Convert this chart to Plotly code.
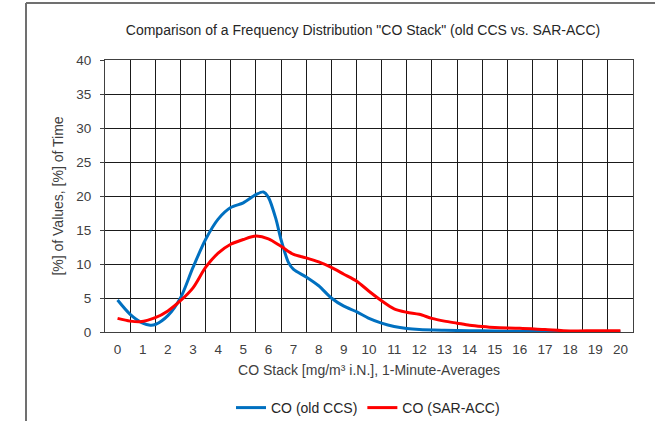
import plotly.graph_objects as go

title_text = 'Comparison of a Frequency Distribution "CO Stack" (old CCS vs. SAR-ACC)'
x_title = "CO Stack [mg/m³ i.N.], 1-Minute-Averages"
y_title = "[%] of Values, [%] of Time"

x_ticks = list(range(0, 21))
y_ticks = [0, 5, 10, 15, 20, 25, 30, 35, 40]

blue_name = "CO (old CCS)"
blue_x = [0, 0.5, 1, 1.3, 1.5, 2, 2.5, 3, 3.5, 4, 4.5, 5, 5.5, 5.8, 6, 6.3, 6.5, 6.8, 7, 7.5, 8, 8.5,
          9, 9.5, 10, 10.5, 11, 11.5, 12, 13, 14, 15, 16, 17, 18, 19, 20]
blue_y = [4.7, 2.6, 1.3, 1.0, 1.1, 2.4, 5.0, 9.5, 13.6, 16.6, 18.3, 19.0, 20.2, 20.6, 19.8, 16.6, 13.6,
          10.2, 9.2, 8.1, 6.8, 5.0, 3.8, 3.0, 2.0, 1.3, 0.8, 0.5, 0.35, 0.25, 0.2, 0.15, 0.1, 0.08,
          0.05, 0.05, 0.05]

red_name = "CO (SAR-ACC)"
red_x = [0, 0.5, 0.9, 1.5, 2, 2.5, 3, 3.5, 4, 4.5, 5, 5.5, 6, 6.5, 7, 7.5, 8, 8.5, 9, 9.5, 10, 10.5,
         11, 11.5, 12, 12.5, 13, 13.5, 14, 14.5, 15, 16, 17, 18, 19, 20]
red_y = [2.0, 1.6, 1.5, 2.1, 3.1, 4.6, 6.5, 9.5, 11.6, 12.9, 13.6, 14.1, 13.7, 12.6, 11.4, 10.9, 10.3,
         9.5, 8.5, 7.5, 6.0, 4.6, 3.4, 2.9, 2.6, 2.0, 1.6, 1.3, 1.0, 0.8, 0.65, 0.55, 0.35, 0.15,
         0.2, 0.2]

FONT = "Liberation Sans, Arial, sans-serif"
TXT = "#404040"

fig = go.Figure()
fig.add_trace(go.Scatter(x=blue_x, y=blue_y, name=blue_name, mode="lines",
                         line=dict(color="#0070C0", width=3, shape="spline", smoothing=0.8)))
fig.add_trace(go.Scatter(x=red_x, y=red_y, name=red_name, mode="lines",
                         line=dict(color="#FF0000", width=3, shape="spline", smoothing=0.8)))

W, H = 655, 421
L, R, T, B = 105, 22, 60, 89
pw, ph = W - L - R, H - T - B

def px(xp):
    return (xp - L) / pw

def py(yp):
    return (H - B - yp) / ph

fig.update_layout(
    width=W, height=H,
    margin=dict(l=L, r=R, t=T, b=B, autoexpand=False),
    paper_bgcolor="white", plot_bgcolor="white",
    font=dict(family=FONT, size=13, color=TXT),
    title=dict(text=title_text, xref="container", x=363 / W, xanchor="center",
               y=1 - 30 / H, yanchor="middle",
               font=dict(family=FONT, size=14, color="#262626")),
    showlegend=True,
    legend=dict(orientation="h", x=px(368), xanchor="center", y=py(408), yanchor="middle",
                font=dict(family=FONT, size=14, color="#262626"), itemwidth=30,
                traceorder="normal", bgcolor="rgba(0,0,0,0)"),
    xaxis=dict(range=[-0.5, 20.5], tickmode="array", tickvals=x_ticks,
               ticktext=[str(v) for v in x_ticks], showgrid=False, zeroline=False,
               showline=True, linecolor="#404040", linewidth=1, mirror=True,
               ticks="outside", ticklen=5, tickcolor="rgba(0,0,0,0)",
               tickfont=dict(size=13.5, color=TXT), automargin=False,
               minor=dict(tickvals=[v - 0.5 for v in x_ticks] + [20.5], showgrid=True,
                          gridcolor="#1a1a1a", gridwidth=1),
               title=dict(text=x_title, standoff=8, font=dict(size=14, color=TXT))),
    yaxis=dict(range=[0, 40], tickmode="array", tickvals=y_ticks, showgrid=True,
               gridcolor="#1a1a1a", gridwidth=1, zeroline=False,
               showline=True, linecolor="#404040", linewidth=1, mirror=True,
               ticks="outside", ticklen=4, tickcolor="#404040", automargin=False,
               ticklabelstandoff=6,
               tickfont=dict(size=13.5, color=TXT),
               title=dict(text=y_title, standoff=9, font=dict(size=14, color=TXT))),
    shapes=[
        dict(type="line", xref="paper", yref="paper", x0=px(26), x1=px(26), y0=py(3), y1=py(H + 5),
             line=dict(color="#707070", width=2)),
        dict(type="line", xref="paper", yref="paper", x0=px(26), x1=px(W + 5), y0=py(3), y1=py(3),
             line=dict(color="#707070", width=2)),
    ],
)

fig.write_html("out.html", config={"displayModeBar": False},
               post_script="document.body.style.margin='0';")
